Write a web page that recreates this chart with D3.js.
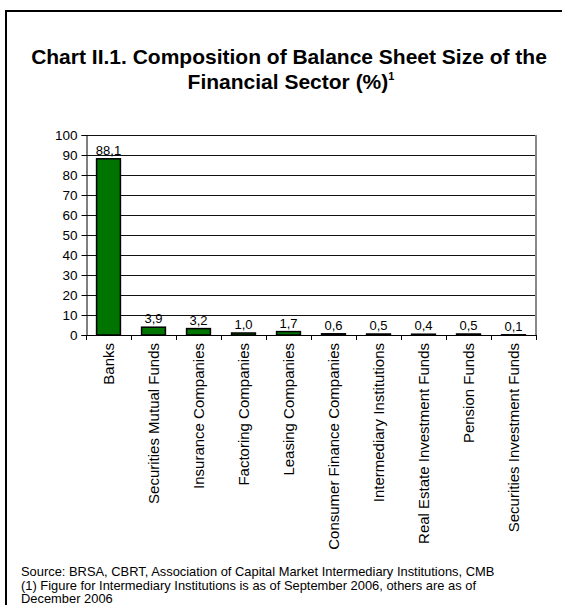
<!DOCTYPE html>
<html>
<head>
<meta charset="utf-8">
<script src="https://cdn.jsdelivr.net/npm/d3@7"></script>
<style>
  html, body { margin: 0; padding: 0; background: #fff; }
  svg { display: block; font-family: "Liberation Sans", Arial, sans-serif; }
</style>
</head>
<body>
<svg id="chart" width="562" height="605"></svg>
<script>
// Financial sector composition, share of total balance sheet (%)
const categories = [
  "Banks",
  "Securities Mutual Funds",
  "Insurance Companies",
  "Factoring Companies",
  "Leasing Companies",
  "Consumer Finance Companies",
  "Intermediary Institutions",
  "Real Estate Investment Funds",
  "Pension Funds",
  "Securities Investment Funds"
];
const values = [88.1, 3.9, 3.2, 1.0, 1.7, 0.6, 0.5, 0.4, 0.5, 0.1];
const yTicks = [0, 10, 20, 30, 40, 50, 60, 70, 80, 90, 100];

const titleLines = ["Chart II.1. Composition of Balance Sheet Size of the", "Financial Sector (%)"];
const footnotes = [
  "Source: BRSA, CBRT, Association of Capital Market Intermediary Institutions, CMB",
  "(1) Figure for Intermediary Institutions is as of September 2006, others are as of",
  "December 2006"
];

const svg = d3.select("#chart");
const fmt = v => d3.format(".1f")(v).replace(".", ",");

// outer frame (runs off the right/bottom edge)
svg.append("rect")
  .attr("x", 6).attr("y", 11)
  .attr("width", 600).attr("height", 640)
  .attr("fill", "none").attr("stroke", "#000").attr("stroke-width", 2);

// title
const title = svg.append("text")
  .attr("text-anchor", "middle")
  .attr("font-weight", "bold")
  .attr("font-size", 21)
  .attr("fill", "#000");
title.append("tspan").attr("x", 289).attr("y", 64).text(titleLines[0]);
const t2 = title.append("tspan").attr("x", 291).attr("y", 89);
t2.append("tspan").text(titleLines[1]);
t2.append("tspan").attr("dy", -9).attr("font-size", 11).text("1");

// scales
const plot = { left: 86, right: 536, top: 135, bottom: 335 };
const x = d3.scaleBand().domain(categories)
  .range([plot.left, plot.right])
  .paddingInner(0.47).paddingOuter(0.235);
const y = d3.scaleLinear().domain([0, 100]).range([plot.bottom, plot.top]);

// horizontal gridlines
svg.append("g").selectAll("line")
  .data(yTicks.filter(t => t > 0))
  .join("line")
  .attr("x1", plot.left).attr("x2", plot.right)
  .attr("y1", d => Math.round(y(d)) + 0.5).attr("y2", d => Math.round(y(d)) + 0.5)
  .attr("stroke", "#111").attr("stroke-width", 1);

// right border of the plot area
svg.append("line")
  .attr("x1", plot.right).attr("x2", plot.right)
  .attr("y1", plot.top).attr("y2", plot.bottom)
  .attr("stroke", "#888").attr("stroke-width", 2);

// bars
svg.append("g").selectAll("rect")
  .data(values)
  .join("rect")
  .attr("x", (d, i) => x(categories[i]))
  .attr("y", d => y(d))
  .attr("width", x.bandwidth())
  .attr("height", d => y(0) - y(d))
  .attr("fill", "#007400")
  .attr("stroke", "#000").attr("stroke-width", 1.5);

// value labels
svg.append("g").selectAll("text")
  .data(values)
  .join("text")
  .attr("x", (d, i) => x(categories[i]) + x.bandwidth() / 2)
  .attr("y", d => y(d) - 4)
  .attr("text-anchor", "middle")
  .attr("font-size", 13)
  .attr("fill", "#000")
  .text(d => fmt(d));

// y axis
const yAxis = svg.append("g")
  .attr("transform", `translate(${plot.left + 0.5},0)`)
  .call(d3.axisLeft(y).tickValues(yTicks).tickSize(5).tickPadding(4));
yAxis.select(".domain").attr("stroke", "#000");
yAxis.selectAll(".tick line").attr("stroke", "#000");
yAxis.selectAll(".tick text")
  .attr("font-size", 13.5)
  .attr("font-family", "Liberation Sans, Arial, sans-serif")
  .attr("fill", "#000");

// x axis line with ticks on category boundaries
const boundaries = d3.range(categories.length + 1).map(i => plot.left + i * x.step());
const xg = svg.append("g");
xg.append("line")
  .attr("x1", plot.left).attr("x2", plot.right)
  .attr("y1", plot.bottom + 0.5).attr("y2", plot.bottom + 0.5)
  .attr("stroke", "#000");
xg.selectAll("line.tick")
  .data(boundaries)
  .join("line")
  .attr("class", "tick")
  .attr("x1", d => Math.round(d) + 0.5).attr("x2", d => Math.round(d) + 0.5)
  .attr("y1", plot.bottom).attr("y2", plot.bottom + 5)
  .attr("stroke", "#000");

// rotated category labels
xg.selectAll("text")
  .data(categories)
  .join("text")
  .attr("transform", d => `translate(${x(d) + x.bandwidth() / 2 + 5},${plot.bottom + 8}) rotate(-90)`)
  .attr("text-anchor", "end")
  .attr("font-size", 15)
  .attr("fill", "#000")
  .text(d => d);

// footnotes
svg.append("g").selectAll("text")
  .data(footnotes)
  .join("text")
  .attr("x", 21)
  .attr("y", (d, i) => 576 + i * 13.5)
  .attr("font-size", 12.9)
  .attr("fill", "#000")
  .text(d => d);
</script>
</body>
</html>
